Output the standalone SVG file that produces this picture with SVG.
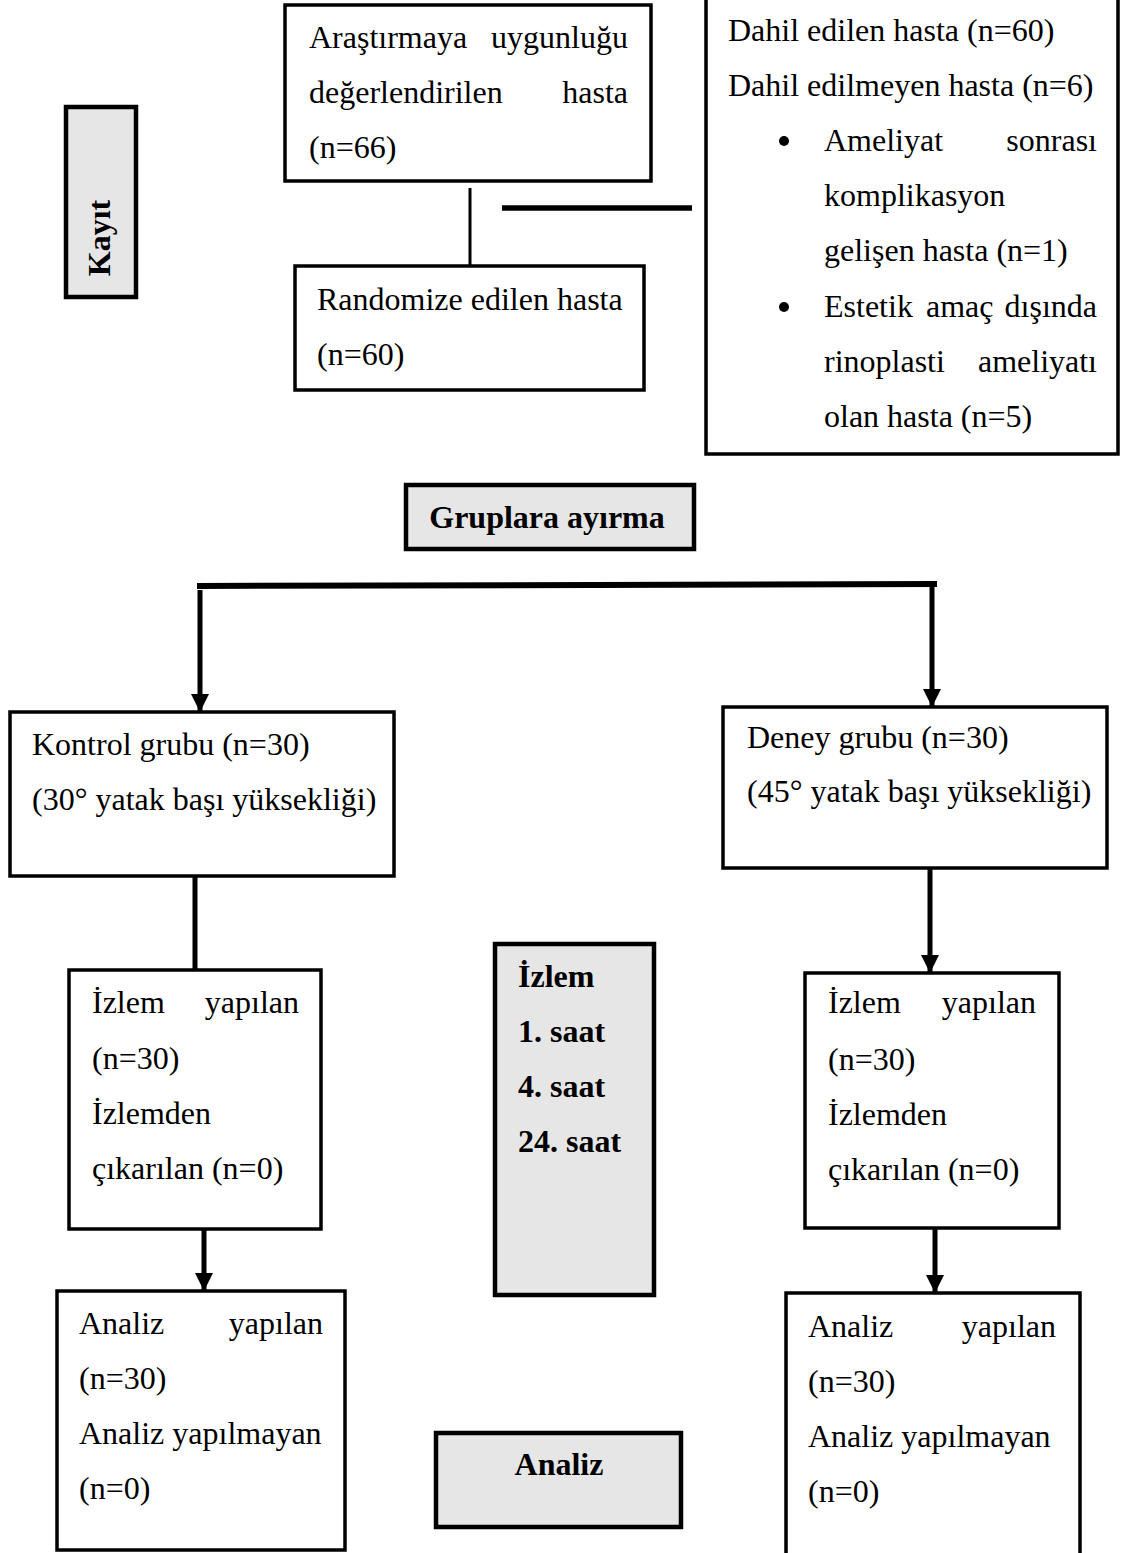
<svg xmlns="http://www.w3.org/2000/svg" width="1125" height="1553" viewBox="0 0 1125 1553">
<defs>
<style>
.box{fill:#ffffff;stroke:#000;stroke-width:3.5}
.gbox{fill:#e6e6e6;stroke:#000;stroke-width:4.5}
text{font-family:"Liberation Serif","Times New Roman",serif;font-size:32px;fill:#000}
.b{font-weight:bold}
.e{text-anchor:end}
.m{text-anchor:middle}
.ln{stroke:#000;fill:none}
</style>
<marker id="ah" markerUnits="userSpaceOnUse" markerWidth="18" markerHeight="18" viewBox="0 0 18 18" refX="17" refY="9" orient="auto">
<path d="M0,0 L18,9 L0,18 Z" fill="#000"/>
</marker>
</defs>
<rect width="1125" height="1553" fill="#fff"/>

<g id="connectors">
<line class="ln" x1="470" y1="188" x2="470" y2="266" stroke-width="3"/>
<line class="ln" x1="502" y1="208" x2="692" y2="208" stroke-width="5.5"/>
<line class="ln" x1="197" y1="586" x2="937" y2="584" stroke-width="6"/>
<path d="M200,590 V711" class="ln" stroke-width="5" marker-end="url(#ah)"/>
<path d="M932,586 V706" class="ln" stroke-width="5" marker-end="url(#ah)"/>
<line class="ln" x1="195" y1="876" x2="195" y2="970" stroke-width="5"/>
<path d="M930,868 V972" class="ln" stroke-width="5" marker-end="url(#ah)"/>
<path d="M204,1229 V1290" class="ln" stroke-width="5" marker-end="url(#ah)"/>
<path d="M935,1228 V1292" class="ln" stroke-width="5" marker-end="url(#ah)"/>
</g>

<g id="kayit">
<rect class="gbox" x="66" y="107" width="70" height="190"/>
<text class="b m" transform="translate(110,238) rotate(-90)">Kayıt</text>
</g>

<g id="arastirma">
<rect class="box" x="285" y="5" width="366" height="176"/>
<text x="309" y="48">Araştırmaya</text>
<text class="e" x="628" y="48">uygunluğu</text>
<text x="309" y="103">değerlendirilen</text>
<text class="e" x="628" y="103">hasta</text>
<text x="309" y="158">(n=66)</text>
</g>

<g id="randomize">
<rect class="box" x="295" y="266" width="349" height="124"/>
<text x="317" y="310">Randomize edilen hasta</text>
<text x="317" y="365">(n=60)</text>
</g>

<g id="dahil">
<rect class="box" x="706" y="-4" width="412" height="458"/>
<text x="728" y="41">Dahil edilen hasta (n=60)</text>
<text x="728" y="96">Dahil edilmeyen hasta (n=6)</text>
<circle cx="784" cy="141" r="5" fill="#000"/>
<text x="824" y="151">Ameliyat</text>
<text class="e" x="1097" y="151">sonrası</text>
<text x="824" y="206">komplikasyon</text>
<text x="824" y="261">gelişen hasta (n=1)</text>
<circle cx="784" cy="307" r="5" fill="#000"/>
<text x="824" y="317">Estetik</text>
<text x="926" y="317">amaç</text>
<text class="e" x="1097" y="317">dışında</text>
<text x="824" y="372">rinoplasti</text>
<text class="e" x="1097" y="372">ameliyatı</text>
<text x="824" y="427">olan hasta (n=5)</text>
</g>

<g id="gruplara">
<rect class="gbox" x="406" y="485" width="288" height="64"/>
<text class="b m" x="547" y="528">Gruplara ayırma</text>
</g>

<g id="kontrol">
<rect class="box" x="10" y="712" width="384" height="164"/>
<text x="32" y="755">Kontrol grubu (n=30)</text>
<text x="32" y="810">(30° yatak başı yüksekliği)</text>
</g>

<g id="deney">
<rect class="box" x="723" y="707" width="384" height="161"/>
<text x="747" y="748">Deney grubu (n=30)</text>
<text x="747" y="802">(45° yatak başı yüksekliği)</text>
</g>

<g id="izlem-kontrol">
<rect class="box" x="69" y="970" width="252" height="259"/>
<text x="92" y="1013">İzlem</text>
<text class="e" x="299" y="1013">yapılan</text>
<text x="92" y="1069">(n=30)</text>
<text x="92" y="1124">İzlemden</text>
<text x="92" y="1179">çıkarılan (n=0)</text>
</g>

<g id="izlem-label">
<rect class="gbox" x="495" y="944" width="159" height="351"/>
<text class="b" x="518" y="987">İzlem</text>
<text class="b" x="518" y="1042">1. saat</text>
<text class="b" x="518" y="1097">4. saat</text>
<text class="b" x="518" y="1152">24. saat</text>
</g>

<g id="izlem-deney">
<rect class="box" x="805" y="973" width="254" height="255"/>
<text x="828" y="1013">İzlem</text>
<text class="e" x="1036" y="1013">yapılan</text>
<text x="828" y="1070">(n=30)</text>
<text x="828" y="1125">İzlemden</text>
<text x="828" y="1180">çıkarılan (n=0)</text>
</g>

<g id="analiz-kontrol">
<rect class="box" x="57" y="1291" width="288" height="259"/>
<text x="79" y="1334">Analiz</text>
<text class="e" x="323" y="1334">yapılan</text>
<text x="79" y="1389">(n=30)</text>
<text x="79" y="1444">Analiz yapılmayan</text>
<text x="79" y="1499">(n=0)</text>
</g>

<g id="analiz-label">
<rect class="gbox" x="436" y="1433" width="245" height="94"/>
<text class="b m" x="559" y="1475">Analiz</text>
</g>

<g id="analiz-deney">
<rect class="box" x="786" y="1293" width="294" height="264"/>
<text x="808" y="1337">Analiz</text>
<text class="e" x="1056" y="1337">yapılan</text>
<text x="808" y="1392">(n=30)</text>
<text x="808" y="1447">Analiz yapılmayan</text>
<text x="808" y="1502">(n=0)</text>
</g>
</svg>
